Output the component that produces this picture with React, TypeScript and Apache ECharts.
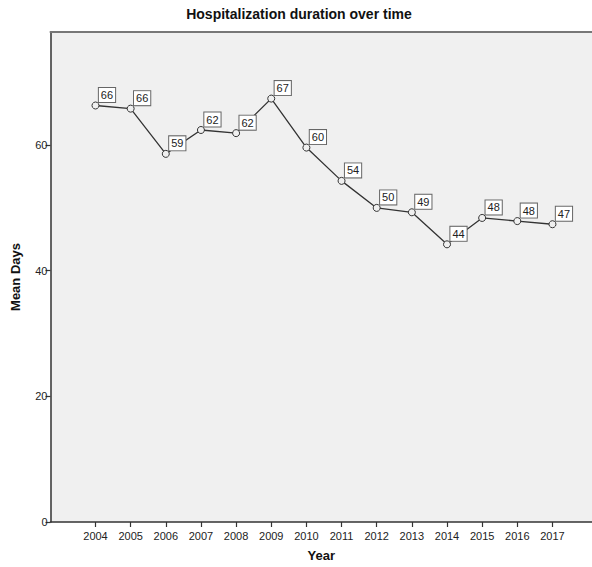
import React, { useEffect, useRef } from "react";
import * as echarts from "echarts";

const years: number[] = [2004, 2005, 2006, 2007, 2008, 2009, 2010, 2011, 2012, 2013, 2014, 2015, 2016, 2017];
const meanDays: number[] = [66.3, 65.8, 58.6, 62.4, 61.9, 67.4, 59.6, 54.3, 50.0, 49.3, 44.2, 48.4, 47.9, 47.4];
const yTicks: number[] = [0, 20, 40, 60];

const FONT = '"Liberation Sans", Arial, sans-serif';
const X_MIN = 2002.72;
const X_MAX = 2018.125;

export default function App() {
  const ref = useRef<HTMLDivElement>(null);
  useEffect(() => {
    if (!ref.current) return;
    const chart = echarts.init(ref.current, undefined, { renderer: "svg" });
    chart.setOption({
      animation: false,
      backgroundColor: "#ffffff",
      title: {
        text: "Hospitalization duration over time",
        left: 299,
        textAlign: "center",
        top: 7,
        padding: 0,
        textStyle: { fontFamily: FONT, fontSize: 14, fontWeight: "bold", color: "#111" },
      },
      grid: {
        left: 50.5,
        right: 0,
        top: 32,
        bottom: 43.7,
        show: true,
        backgroundColor: "#f0f0f0",
        borderWidth: 0,
      },
      xAxis: [
        {
          type: "value",
          min: X_MIN,
          max: X_MAX,
          name: "Year",
          nameLocation: "middle",
          nameGap: 27,
          nameTextStyle: { fontFamily: FONT, fontSize: 13, fontWeight: "bold", color: "#111" },
          axisLine: { show: true, onZero: false, lineStyle: { color: "#333", width: 1.5 } },
          axisTick: { show: true, length: 5, customValues: years, lineStyle: { color: "#333", width: 1.2 } },
          axisLabel: {
            customValues: years,
            formatter: (v: number) => String(Math.round(v)),
            fontFamily: FONT,
            fontSize: 11,
            color: "#222",
            margin: 8,
          },
          splitLine: { show: false },
        },
        {
          type: "value",
          position: "top",
          min: X_MIN,
          max: X_MAX,
          axisLine: { show: true, onZero: false, lineStyle: { color: "#777", width: 2 } },
          axisTick: { show: false },
          axisLabel: { show: false },
          splitLine: { show: false },
        },
      ],
      yAxis: {
        type: "value",
        min: 0,
        max: 78,
        name: "Mean Days",
        nameLocation: "middle",
        nameGap: 29,
        nameTextStyle: { fontFamily: FONT, fontSize: 13, fontWeight: "bold", color: "#111" },
        axisLine: { show: true, lineStyle: { color: "#333", width: 1.5 } },
        axisTick: { show: true, length: 5, customValues: yTicks, lineStyle: { color: "#333", width: 1.2 } },
        axisLabel: {
          customValues: yTicks,
          fontFamily: FONT,
          fontSize: 11,
          color: "#222",
          margin: 3,
        },
        splitLine: { show: false },
      },
      series: [
        {
          type: "line",
          xAxisIndex: 0,
          data: years.map((y, i) => [y, meanDays[i]]),
          symbol: "circle",
          symbolSize: 7,
          itemStyle: { color: "#f0f0f0", borderColor: "#333", borderWidth: 1 },
          lineStyle: { color: "#333", width: 1.3 },
          label: {
            show: true,
            position: "inside",
            offset: [11.5, -10.5],
            formatter: (p: any) => String(Math.round(p.value[1])),
            fontFamily: FONT,
            fontSize: 11,
            color: "#222",
            backgroundColor: "#ffffff",
            borderColor: "#666",
            borderWidth: 1,
            padding: [2, 2, 1, 2],
          },
        },
      ],
    });
    return () => chart.dispose();
  }, []);
  return (
    <div
      ref={ref}
      style={{ position: "fixed", left: 0, top: 0, width: 592, height: 567 }}
    />
  );
}
